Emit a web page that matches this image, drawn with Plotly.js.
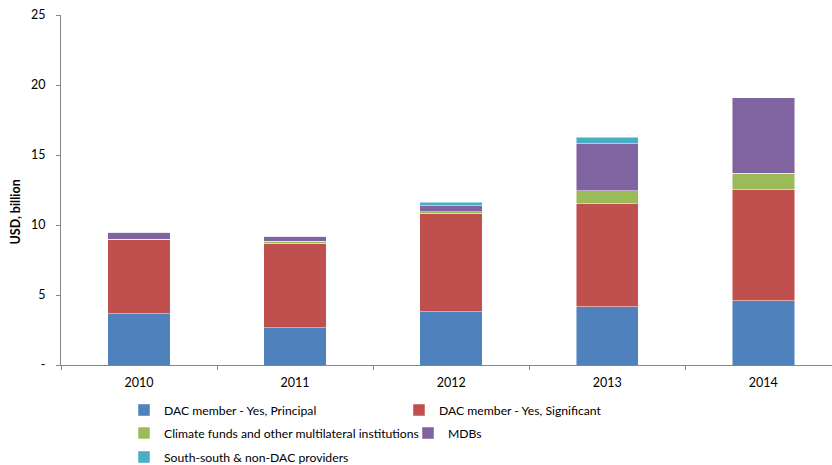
<!DOCTYPE html>
<html>
<head>
<meta charset="utf-8">
<script src="https://cdn.plot.ly/plotly-3.0.1.min.js"></script>
<style>html,body{margin:0;padding:0;background:#fff;}#chart{width:832px;height:465px;}</style>
</head>
<body>
<div id="chart"></div>
<script>
const years = ['2010', '2011', '2012', '2013', '2014'];
const dacPrincipal = [3.65, 2.65, 3.82, 4.15, 4.58];
const dacSignificant = [5.30, 6.06, 7.02, 7.38, 7.93];
const climateFunds = [0.03, 0.12, 0.12, 0.93, 1.19];
const mdbs = [0.52, 0.38, 0.40, 3.34, 5.38];
const southSouth = [0.00, 0.00, 0.27, 0.48, 0.00];
const yTickVals = [0, 5, 10, 15, 20, 25];
const yTickText = ['-', '5', '10', '15', '20', '25'];

const FONT = 'Lato, "Open Sans", sans-serif';
const series = [
  {name: 'DAC member - Yes, Principal', y: dacPrincipal, color: '#4F81BD', legend: 'legend'},
  {name: 'DAC member - Yes, Significant', y: dacSignificant, color: '#C0504D', legend: 'legend'},
  {name: 'Climate funds and other multilateral institutions', y: climateFunds, color: '#9BBB59', legend: 'legend2'},
  {name: 'MDBs', y: mdbs, color: '#8064A2', legend: 'legend4'},
  {name: 'South-south & non-DAC providers', y: southSouth, color: '#4BACC6', legend: 'legend3'}
];
const traces = series.map(s => ({
  type: 'bar', x: years, y: s.y, name: s.name, legend: s.legend,
  marker: {color: s.color, line: {color: 'rgba(255,255,255,0.6)', width: 0.8}},
  hoverinfo: 'x+y+name'
}));

function cY(p) { return 1 - p / 465; }
function cX(p) { return p / 832; }
const legBase = {
  orientation: 'h', xanchor: 'left', yanchor: 'middle',
  xref: 'container', yref: 'container',
  font: {family: FONT, size: 12.2, color: '#000'},
  itemwidth: 30,
  bgcolor: 'rgba(0,0,0,0)', traceorder: 'normal'
};
const layout = {
  width: 832, height: 465,
  margin: {l: 61, r: 0, t: 15, b: 100},
  paper_bgcolor: '#fff', plot_bgcolor: '#fff',
  barmode: 'stack', bargap: 0.6,
  font: {family: FONT, size: 12, color: '#000'},
  showlegend: true,
  legend: Object.assign({}, legBase, {x: cX(124), y: cY(410), entrywidth: 230, entrywidthmode: 'pixels'}),
  legend2: Object.assign({}, legBase, {x: cX(124), y: cY(433)}),
  legend4: Object.assign({}, legBase, {x: cX(408), y: cY(433)}),
  legend3: Object.assign({}, legBase, {x: cX(124), y: cY(457)}),
  xaxis: {
    type: 'category', range: [-0.5, 4.44],
    showline: true, linecolor: '#868686', linewidth: 1,
    ticks: 'outside', tickson: 'boundaries', ticklen: 4, tickcolor: '#868686',
    showgrid: false, zeroline: false,
    tickfont: {family: FONT, size: 12.5, color: '#000'},
    ticklabelstandoff: 6
  },
  yaxis: {
    range: [0, 25], tickvals: yTickVals, ticktext: yTickText,
    showline: true, linecolor: '#868686', linewidth: 1,
    ticks: 'outside', ticklen: 4, tickcolor: '#868686',
    showgrid: false, zeroline: false,
    tickfont: {family: FONT, size: 12.5, color: '#000'},
    ticklabelstandoff: 8
  },
  annotations: [{
    text: '<b>USD, billion</b>', textangle: -90,
    xref: 'paper', yref: 'paper', x: (14.5 - 61) / 771, y: (365 - 212) / 350,
    xanchor: 'center', yanchor: 'middle', showarrow: false,
    font: {family: FONT, size: 12.5, color: '#000'}
  }]
};
Plotly.newPlot('chart', traces, layout, {displayModeBar: false});
</script>
</body>
</html>
